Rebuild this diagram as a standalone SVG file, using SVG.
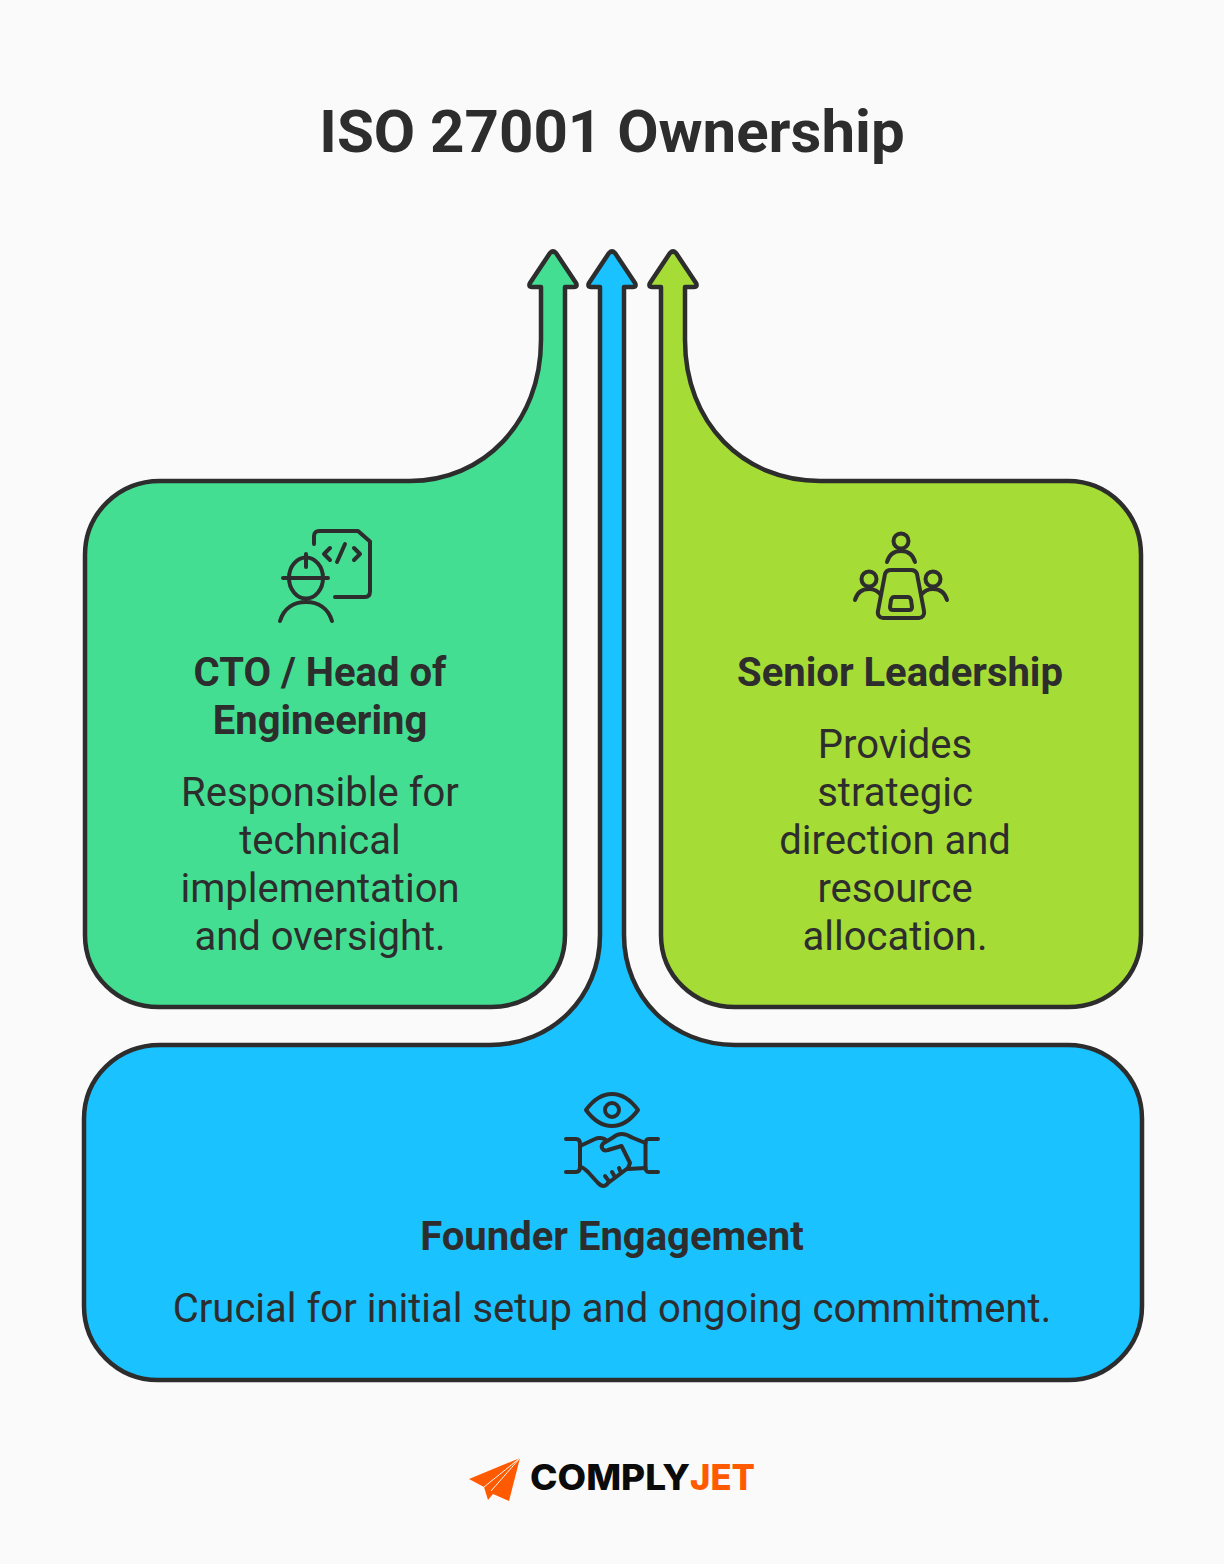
<svg xmlns="http://www.w3.org/2000/svg" width="1224" height="1564" viewBox="0 0 1224 1564">
<style>
.s{stroke:#2d2d2d;stroke-width:4.500;stroke-linejoin:round;stroke-linecap:round}
.i{fill:none;stroke:#2d2d2d;stroke-width:4;stroke-linejoin:round;stroke-linecap:round}
text{font-family:Roboto,"Liberation Sans",sans-serif;fill:#2d2d2d;text-anchor:middle}
.h{font-size:40px;font-weight:700}
.b{font-size:40px;font-weight:400}
.l{font-family:Inter,"Liberation Sans",sans-serif;font-size:35px;font-weight:800}
</style>
<rect width="1224" height="1564" fill="#fafafa"/>
<text x="612" y="152" font-size="60" font-weight="700">ISO 27001 Ownership</text>
<g id="connectors"></g>
<g id="node-founder">
<path class="s" fill="#1ac2ff" d="M160 1045H490C552 1045 600 997 600 935V287H591C588 287 588 285 589 283L609 253C611 251 613 251 615 253L635 283C636 285 636 287 633 287H624V935C624 997 672 1045 735 1045H1068C1109 1045 1142 1078 1142 1119V1306C1142 1347 1109 1380 1068 1380H158C117 1380 84 1347 84 1306V1119C84 1078 117 1045 160 1045Z"/>
<g id="icon-founder" class="i">
<path d="M586 1110C594 1099 602 1094 612 1094C622 1094 630 1099 638 1110C630 1121 622 1126 612 1126C602 1126 594 1121 586 1110Z"/>
<circle cx="612" cy="1110" r="7"/>
<path d="M566 1139H576C579 1139 580 1141 580 1144V1167C580 1170 579 1172 576 1172H566M658 1139H649C646 1139 645.500 1141 645.500 1144V1167C645.500 1170 646 1172 649 1172H658"/>
<path d="M580 1146L595 1139C598 1137.500 603 1137.500 606 1140M645.500 1143L632 1137.500C625 1133 618 1133 613 1137.500L603 1143.500C600 1147 603 1152 608 1150L621.500 1146L630 1163L628 1168L608 1183C605 1187 602 1187 598 1183L588 1172C585 1169 583 1167 580 1167M628 1169L645.500 1168M605 1176L608 1180M612 1172L615 1177M619 1168L621 1173"/>
</g>
<text class="h" x="612" y="1250">Founder Engagement</text>
<text class="b" x="612" y="1322.400">Crucial for initial setup and ongoing commitment.</text>
</g>
<g id="node-cto">
<path class="s" fill="#44de93" d="M160 481H410C483 481 541 423 541 340V287H532C529 287 529 285 530 283L550 253C552 251 554 251 556 253L576 283C577 285 577 287 574 287H565V935C565 976 532 1007 491 1007H159C118 1007 85 976 85 935V555C85 514 118 481 160 481Z"/>
<g id="icon-cto" class="i">
<path d="M314 544V536C314 533 316 531 319 531H358L370 541.500V591C370 595 368 597 365 597H335"/>
<path d="M330 548L324 554L330 560M354 548L360 554L354 560M345 544L337 562"/>
<ellipse cx="306" cy="578" rx="17" ry="20.500"/>
<path d="M283 578H328M306 554V567M280 621C284 608 294 602 306 602C318 602 328 608 332 621"/>
</g>
<text class="h" x="320" y="686">CTO / Head of</text>
<text class="h" x="320" y="734">Engineering</text>
<text class="b" x="320" y="806.400">Responsible for</text>
<text class="b" x="320" y="854.400">technical</text>
<text class="b" x="320" y="902.400">implementation</text>
<text class="b" x="320" y="950.400">and oversight.</text>
</g>
<g id="node-leadership">
<path class="s" fill="#a6dc36" d="M661 287H652C649 287 649 285 650 283L670 253C672 251 674 251 676 253L696 283C697 285 697 287 694 287H685V340C685 423 743 481 820 481H1068C1109 481 1141 514 1141 555V935C1141 976 1109 1007 1068 1007H735C694 1007 661 976 661 935Z"/>
<g id="icon-leadership" class="i">
<circle cx="901" cy="541" r="7.500"/>
<path d="M887 562C889 555 894 551 901 551C908 551 913 555 915 562"/>
<circle cx="869" cy="579" r="7.500"/>
<path d="M855 600C857 593 862 589 869 589C874 589 878 591 881 595"/>
<circle cx="933" cy="579" r="7.500"/>
<path d="M947 600C945 593 940 589 933 589C928 589 924 591 921 595"/>
<path d="M891 570H911C914 570 916 571 917 574L924 611C925 615 922 618 919 618H883C880 618 877 615 878 611L885 574C886 571 888 570 891 570Z"/>
<path d="M894 597H908C910 597 910 598 911 600L912 607C912 609 911 610 909 610H893C891 610 890 609 890 607L891 600C892 598 892 597 894 597Z"/>
</g>
<text class="h" x="900" y="686">Senior Leadership</text>
<text class="b" x="895" y="758.400">Provides</text>
<text class="b" x="895" y="806.400">strategic</text>
<text class="b" x="895" y="854.400">direction and</text>
<text class="b" x="895" y="902.400">resource</text>
<text class="b" x="895" y="950.400">allocation.</text>
</g>
<g id="logo">
<path fill="#ff5a00" d="M469 1479L520 1458L509 1501L493 1494L488 1500L484 1487Z"/>
<path fill="none" stroke="#fafafa" stroke-width="1" d="M520 1458L484 1487M520 1458L491 1491"/>
<text class="l" x="610" y="1490" style="fill:#0b0b0b" textLength="160" lengthAdjust="spacingAndGlyphs">COMPLY</text>
<text class="l" x="722.500" y="1490" style="fill:#ff5a00" textLength="65" lengthAdjust="spacingAndGlyphs">JET</text>
</g>
</svg>
